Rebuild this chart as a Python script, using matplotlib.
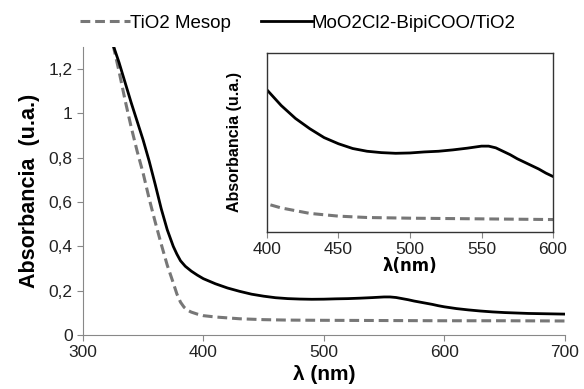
import matplotlib
matplotlib.use("Agg")
import matplotlib.pyplot as plt

plt.rcParams['font.family'] = ['Liberation Sans', 'DejaVu Sans']

# %% data
wl_meso = [325, 330, 335, 340, 345, 350, 355, 360, 365, 370, 375, 378, 381, 384, 387, 390, 395,
           400, 410, 420, 430, 440, 450, 470, 500, 550, 600, 650, 700]
abs_meso = [1.31, 1.19, 1.06, 0.94, 0.83, 0.73, 0.615, 0.51, 0.41, 0.315, 0.235, 0.185, 0.148,
            0.125, 0.111, 0.103, 0.094, 0.087, 0.081, 0.077, 0.073, 0.071, 0.069, 0.067,
            0.066, 0.065, 0.064, 0.064, 0.063]

wl_mo = [325, 330, 335, 340, 345, 350, 355, 360, 365, 370, 375, 378, 381, 385, 390, 395,
         400, 410, 420, 430, 440, 450, 460, 470, 480, 490, 500, 510, 520, 530, 540, 545,
         550, 555, 560, 565, 570, 575, 580, 585, 590, 595, 600, 610, 620, 630, 640, 650,
         660, 670, 680, 690, 700]
abs_mo = [1.31, 1.23, 1.14, 1.05, 0.965, 0.88, 0.785, 0.68, 0.57, 0.475, 0.40, 0.365, 0.335,
          0.31, 0.288, 0.27, 0.254, 0.231, 0.212, 0.197, 0.184, 0.175, 0.168, 0.164, 0.162,
          0.161, 0.1615, 0.163, 0.164, 0.166, 0.1685, 0.170, 0.1715, 0.1715, 0.169, 0.164,
          0.159, 0.153, 0.148, 0.143, 0.138, 0.132, 0.127, 0.119, 0.113, 0.108, 0.104,
          0.101, 0.099, 0.097, 0.096, 0.095, 0.094]

lab_meso = "TiO2 Mesop"
lab_mo = "MoO2Cl2-BipiCOO/TiO2"

y_ticks = [0, 0.2, 0.4, 0.6, 0.8, 1.0, 1.2]
y_labels = ["0", "0,2", "0,4", "0,6", "0,8", "1", "1,2"]
x_ticks = [300, 400, 500, 600, 700]
inset_ticks = [400, 450, 500, 550, 600]

# %% figure
fig = plt.figure(figsize=(5.84, 3.89), dpi=100)
ax = fig.add_axes([0.142, 0.139, 0.825, 0.740])

dash_style = dict(color="#777777", lw=2.2, linestyle=(0, (3.2, 1.6)))
solid_style = dict(color="black", lw=2.0)

ax.plot(wl_meso, abs_meso, label=lab_meso, **dash_style)
ax.plot(wl_mo, abs_mo, label=lab_mo, **solid_style)

ax.set_xlim(300, 700)
ax.set_ylim(0, 1.3)
ax.set_xticks(x_ticks)
ax.set_yticks(y_ticks)
ax.set_yticklabels(y_labels)
ax.tick_params(labelsize=12.5, colors="#888888", labelcolor="#222222", length=4, direction="out")
for s in ["top", "right"]:
    ax.spines[s].set_visible(False)
for s in ["left", "bottom"]:
    ax.spines[s].set_color("#888888")

ax.set_xlabel("λ (nm)", fontsize=15, fontweight="bold", labelpad=3)
ax.set_ylabel("Absorbancia  (u.a.)", fontsize=15.5, fontweight="bold", labelpad=6)

fig.legend(loc="center", bbox_to_anchor=(0.51, 0.94), ncol=2, frameon=False,
           fontsize=13.5, handlelength=2.7, handletextpad=0.0, columnspacing=1.6)

# %% inset
ins = fig.add_axes([0.457, 0.404, 0.490, 0.460])
ins.plot(wl_meso, abs_meso, **dash_style)
ins.plot(wl_mo, abs_mo, **solid_style)
ins.set_xlim(400, 600)
ins.set_ylim(0.046, 0.308)
ins.set_xticks(inset_ticks)
ins.set_yticks([])
ins.tick_params(labelsize=12.5, colors="#888888", labelcolor="#222222", length=4, direction="out")
for s in ins.spines.values():
    s.set_color("#333333")
    s.set_linewidth(1.0)
ins.set_xlabel("λ(nm)", fontsize=12, fontweight="bold", labelpad=0, family=["DejaVu Sans"])
ins.set_ylabel("Absorbancia (u.a.)", fontsize=11.5, fontweight="bold", labelpad=18)

fig.savefig("out.png", dpi=100)
